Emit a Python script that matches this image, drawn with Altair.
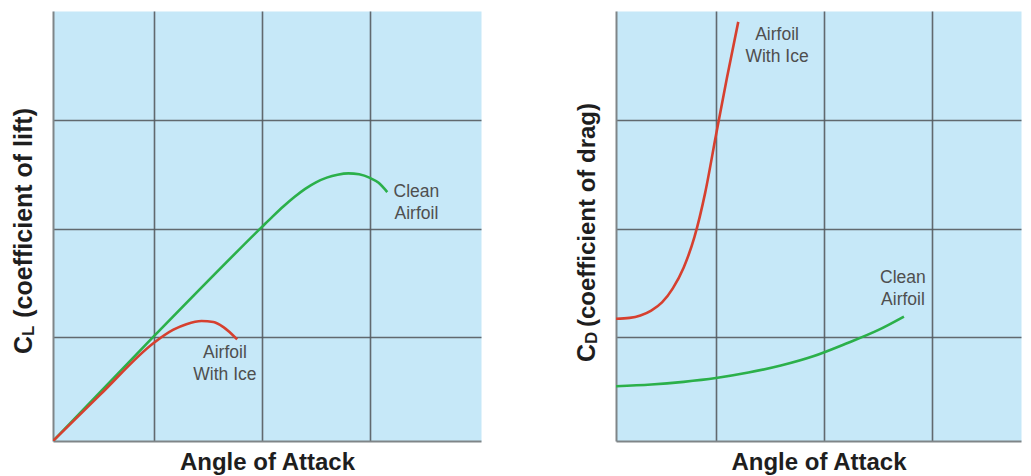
import altair as alt
import pandas as pd

FONT = "Liberation Sans"
BG = "#C6E8F8"
GRID = "#555b5f"
AXIS = "#7f8588"
GREEN = "#2BB04A"
RED = "#D6402F"
LABEL = "#4f4f4f"
TITLE = "#1e1e1e"

# ---------------- data ----------------
grid_ticks = [1, 2, 3]

lift_x_domain = [0.065, 4.028]
lift_y_domain = [0.046, 4.0]
drag_x_domain = [0.074, 3.824]
drag_y_domain = [0.046, 4.0]

# left panel: lift coefficient
lift_clean_aoa = [0.065, 1.0, 2.0, 2.1, 2.2, 2.3, 2.4, 2.5, 2.6, 2.7, 2.8, 2.9, 3.0, 3.08, 3.16]
lift_clean_cl = [0.046, 1.01, 2.015, 2.112, 2.205, 2.29, 2.365, 2.425, 2.468, 2.495, 2.507,
                 2.498, 2.465, 2.42, 2.335]

lift_ice_aoa = [0.065, 0.5, 1.0, 1.18, 1.30, 1.44, 1.55, 1.64, 1.77]
lift_ice_cl = [0.046, 0.47, 0.95, 1.07, 1.12, 1.15, 1.14, 1.095, 0.98]

# right panel: drag coefficient
drag_ice_aoa = [0.074, 0.2, 0.3, 0.4, 0.5, 0.6, 0.7, 0.8, 0.9, 1.0, 1.1, 1.206]
drag_ice_cd = [1.17, 1.178, 1.2, 1.245, 1.32, 1.45, 1.64, 1.92, 2.33, 2.86, 3.38, 3.90]

drag_clean_aoa = [0.074, 0.4, 0.7, 1.0, 1.3, 1.6, 1.9, 2.2, 2.5, 2.74]
drag_clean_cd = [0.55, 0.565, 0.59, 0.625, 0.675, 0.74, 0.825, 0.94, 1.065, 1.19]

# annotation labels (data coordinates of the first line)
lift_label_text = ["Clean\nAirfoil", "Airfoil\nWith Ice"]
lift_label_x = [3.43, 1.657]
lift_label_y = [2.335, 0.853]

drag_label_text = ["Airfoil\nWith Ice", "Clean\nAirfoil"]
drag_label_x = [1.565, 2.731]
drag_label_y = [3.78, 1.541]

x_title = "Angle of Attack"
lift_title = ["C", "L", "(coefficient of lift)"]
drag_title = ["C", "D", "(coefficient of drag)"]

PLOT_H = 430


def panel(curves, labels, xdom, ydom, width, height, title_parts, title_pos):
    xenc_axis = alt.Axis(
        values=grid_ticks, grid=True, gridColor=GRID, gridWidth=1.6, gridOpacity=0.9,
        labels=False, ticks=False, domain=True, domainColor=AXIS, domainWidth=2,
        title=x_title, titleFont=FONT, titleFontSize=24, titleFontWeight="bold",
        titleColor=TITLE, titlePadding=9,
    )
    yenc_axis = alt.Axis(
        values=grid_ticks, grid=True, gridColor=GRID, gridWidth=1.6, gridOpacity=0.9,
        labels=False, ticks=False, domain=True, domainColor=AXIS, domainWidth=2,
        title="", minExtent=0, maxExtent=0,
    )
    layers = []
    first = True
    for xs, ys, color in curves:
        df = pd.DataFrame({"a": xs, "c": ys})
        if first:
            xe = alt.X("a:Q", scale=alt.Scale(domain=xdom, nice=False, zero=False), axis=xenc_axis)
            ye = alt.Y("c:Q", scale=alt.Scale(domain=ydom, nice=False, zero=False), axis=yenc_axis)
            first = False
        else:
            xe = alt.X("a:Q")
            ye = alt.Y("c:Q")
        layers.append(
            alt.Chart(df).mark_line(color=color, strokeWidth=2.6, interpolate="monotone", clip=True)
            .encode(x=xe, y=ye)
        )
    tx, ty, tt = labels
    ldf = pd.DataFrame({"a": tx, "c": ty, "t": tt})
    layers.append(
        alt.Chart(ldf).mark_text(
            font=FONT, fontSize=17.5, color=LABEL, align="center", baseline="middle",
            lineBreak="\n", lineHeight=22,
        ).encode(x="a:Q", y="c:Q", text="t:N")
    )
    # rotated y-axis title with subscript
    (px, big_y, sub_y, tail_y, tail_size) = title_pos
    big, sub, tail = title_parts
    layers.append(
        alt.Chart(pd.DataFrame({"t": [big]})).mark_text(
            font=FONT, fontSize=25, fontWeight="bold", color=TITLE, angle=270,
            align="left", baseline="alphabetic",
        ).encode(x=alt.value(px), y=alt.value(big_y), text="t:N")
    )
    layers.append(
        alt.Chart(pd.DataFrame({"t": [sub]})).mark_text(
            font=FONT, fontSize=17, fontWeight="bold", color=TITLE, angle=270,
            align="left", baseline="alphabetic",
        ).encode(x=alt.value(px + 2), y=alt.value(sub_y), text="t:N")
    )
    layers.append(
        alt.Chart(pd.DataFrame({"t": [tail]})).mark_text(
            font=FONT, fontSize=tail_size, fontWeight="bold", color=TITLE, angle=270,
            align="right", baseline="alphabetic",
        ).encode(x=alt.value(px), y=alt.value(tail_y), text="t:N")
    )
    return alt.layer(*layers).properties(width=width, height=height)


left = panel(
    [(lift_clean_aoa, lift_clean_cl, GREEN), (lift_ice_aoa, lift_ice_cl, RED)],
    (lift_label_x, lift_label_y, lift_label_text),
    lift_x_domain, lift_y_domain, 428, PLOT_H, lift_title, (-21, 343, 325, 97, 25),
)
right = panel(
    [(drag_ice_aoa, drag_ice_cd, RED), (drag_clean_aoa, drag_clean_cd, GREEN)],
    (drag_label_x, drag_label_y, drag_label_text),
    drag_x_domain, drag_y_domain, 405, PLOT_H, drag_title, (-21, 351, 333, 92, 24),
)

chart = (
    alt.hconcat(left, right, spacing=92)
    .properties(padding={"top": 2, "left": 3, "right": 0, "bottom": 0}, background="white")
    .configure_view(fill=BG, stroke="transparent")
)

chart.save("out.html", embed_options={"renderer": "svg", "actions": False})
